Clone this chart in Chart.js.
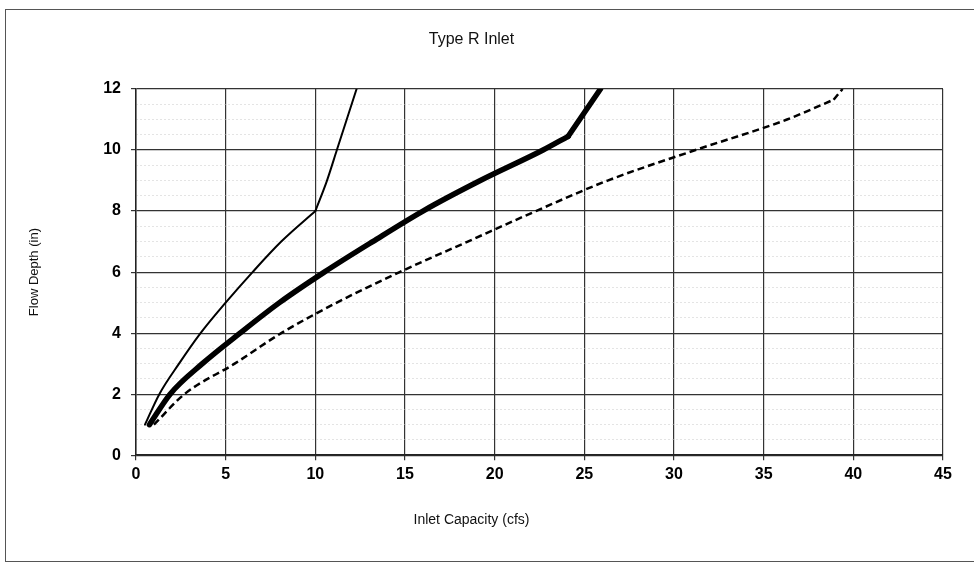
<!DOCTYPE html>
<html>
<head>
<meta charset="utf-8">
<title>Type R Inlet</title>
<script src="https://cdn.jsdelivr.net/npm/chart.js@4/dist/chart.umd.min.js"></script>
<style>
    body { margin: 0; background: #fff; overflow: hidden; }
    #wrap { position: relative; width: 974px; height: 573px; }
    #frame {
        position: absolute; left: 5px; top: 9px; width: 980px; height: 553px;
        border: 1px solid #555; box-sizing: border-box;
    }
    #chart { position: absolute; left: 0; top: 0; }
</style>
</head>
<body>
<div id="wrap">
    <div id="frame"></div>
    <canvas id="chart" width="974" height="573"></canvas>
</div>
<script>
// values
const thinCapacity = [0.5, 1.3, 2.4, 3.6, 5.0, 6.5, 8.1, 10.0, 10.65, 11.2, 11.75, 12.3];
const thinDepth = [1, 2, 3, 4, 5, 6, 7, 8, 9, 10, 11, 12];
const thinKink = 7;

const thickCapacity = [0.75, 1.9, 3.7, 5.8, 8.0, 10.5, 13.2, 16.0, 19.2, 22.7, 24.1, 25.9];
const thickDepth = [1, 2, 3, 4, 5, 6, 7, 8, 9, 10, 10.45, 12];
const thickKink = 10;

const dashedCapacity = [1.0, 2.7, 5.5, 8.1, 11.2, 14.7, 18.5, 22.3, 26.3, 31.2, 36.3, 38.9, 39.4];
const dashedDepth = [1, 2, 3, 4, 5, 6, 7, 8, 9, 10, 11, 11.65, 12];
const dashedKink = 11;

const xTicks = [0, 5, 10, 15, 20, 25, 30, 35, 40, 45];
const yLabels = [0, 2, 4, 6, 8, 10, 12];

function toPoints(xs, ys) {
    return xs.map((x, i) => ({ x: x, y: ys[i] }));
}

// split a curve into two smooth pieces that meet at the kink point
function splitAt(xs, ys, k) {
    const pts = toPoints(xs, ys);
    return [pts.slice(0, k + 1), pts.slice(k)];
}

const isMajorY = v => yLabels.includes(v);

function lineSet(points, width, dash) {
    return {
        data: points,
        showLine: true,
        borderColor: '#000',
        borderWidth: width,
        borderDash: dash || [],
        borderJoinStyle: 'round',
        borderCapStyle: dash ? 'butt' : 'round',
        pointRadius: 0,
        cubicInterpolationMode: 'monotone'
    };
}

document.addEventListener("DOMContentLoaded", function () {
    const thin = splitAt(thinCapacity, thinDepth, thinKink);
    const thick = splitAt(thickCapacity, thickDepth, thickKink);
    const dashed = splitAt(dashedCapacity, dashedDepth, dashedKink);

    const ctx = document.getElementById('chart').getContext('2d');
    new Chart(ctx, {
        type: 'scatter',
        data: {
            datasets: [
                lineSet(thin[0], 2), lineSet(thin[1], 2),
                lineSet(thick[0], 5.5), lineSet(thick[1], 5.5),
                lineSet(dashed[0], 2.5, [7, 4]), lineSet(dashed[1], 2.5, [7, 4])
            ]
        },
        options: {
            responsive: false,
            animation: false,
            layout: { padding: { left: 0, right: 31, top: 0, bottom: 0 } },
            plugins: {
                legend: { display: false },
                tooltip: { enabled: false },
                title: {
                    display: true,
                    text: 'Type R Inlet',
                    color: '#111',
                    font: { family: 'Liberation Sans, Arial', size: 16, weight: 'normal' },
                    padding: { top: 30, bottom: 39.8 }
                },
                subtitle: {
                    display: true,
                    position: 'bottom',
                    text: 'Inlet Capacity (cfs)',
                    color: '#111',
                    font: { family: 'Liberation Sans, Arial', size: 14, weight: 'normal' },
                    padding: { top: 17, bottom: 44 }
                }
            },
            scales: {
                x: {
                    type: 'linear',
                    min: 0,
                    max: 45,
                    afterBuildTicks: axis => { axis.ticks = xTicks.map(v => ({ value: v })); },
                    afterFit: axis => { axis.height = 40; },
                    ticks: {
                        color: '#000',
                        padding: 5,
                        font: { family: 'Liberation Sans, Arial', size: 16, weight: 'bold' }
                    },
                    grid: { color: '#333', lineWidth: 1.2, tickLength: 5, tickColor: '#333' },
                    border: { color: '#222', width: 1.5 }
                },
                y: {
                    type: 'linear',
                    min: 0,
                    max: 12,
                    afterFit: axis => { axis.width = 136; },
                    ticks: {
                        stepSize: 0.5,
                        autoSkip: false,
                        color: '#000',
                        padding: 10,
                        font: { family: 'Liberation Sans, Arial', size: 16, weight: 'bold' },
                        callback: value => isMajorY(value) ? value : ''
                    },
                    grid: {
                        color: c => (c.tick && isMajorY(c.tick.value)) ? '#333' : '#c8c8c8',
                        lineWidth: c => (c.tick && isMajorY(c.tick.value)) ? 1.2 : 1,
                        tickLength: 5,
                        tickColor: c => (c.tick && isMajorY(c.tick.value)) ? '#333' : 'rgba(0,0,0,0)'
                    },
                    border: {
                        color: '#222',
                        width: 1.5,
                        dash: c => (c.tick && !isMajorY(c.tick.value)) ? [1, 3] : []
                    },
                    title: {
                        display: true,
                        text: 'Flow Depth (in)',
                        color: '#111',
                        font: { family: 'Liberation Sans, Arial', size: 13, weight: 'normal' },
                        padding: { top: 27, bottom: 0 }
                    }
                }
            }
        }
    });
});
</script>
</body>
</html>
